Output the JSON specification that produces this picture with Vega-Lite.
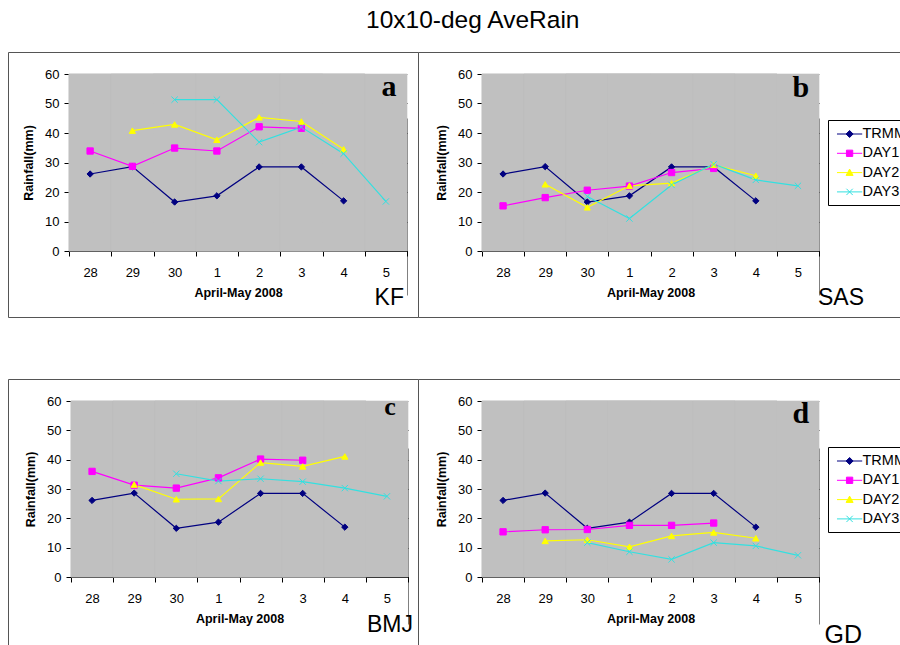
{
  "$schema": "https://vega.github.io/schema/vega-lite/v6.json",
  "padding": {"left": 7, "top": 8, "right": 0, "bottom": 0},
  "background": "white",
  "title": {
    "text": "10x10-deg AveRain",
    "font": "Liberation Sans",
    "fontSize": 24.5,
    "fontWeight": "normal",
    "color": "#000",
    "anchor": "middle",
    "dx": 12,
    "offset": 18
  },
  "datasets": {
    "rain": [
      {"p": "a", "s": "TRMM", "day": "28", "mm": 26.1},
      {"p": "a", "s": "TRMM", "day": "29", "mm": 28.6},
      {"p": "a", "s": "TRMM", "day": "30", "mm": 16.6},
      {"p": "a", "s": "TRMM", "day": "1", "mm": 18.7},
      {"p": "a", "s": "TRMM", "day": "2", "mm": 28.5},
      {"p": "a", "s": "TRMM", "day": "3", "mm": 28.5},
      {"p": "a", "s": "TRMM", "day": "4", "mm": 17.0},
      {"p": "a", "s": "DAY1", "day": "28", "mm": 33.9},
      {"p": "a", "s": "DAY1", "day": "29", "mm": 28.7},
      {"p": "a", "s": "DAY1", "day": "30", "mm": 34.9},
      {"p": "a", "s": "DAY1", "day": "1", "mm": 33.9},
      {"p": "a", "s": "DAY1", "day": "2", "mm": 42.1},
      {"p": "a", "s": "DAY1", "day": "3", "mm": 41.6},
      {"p": "a", "s": "DAY2", "day": "29", "mm": 40.8},
      {"p": "a", "s": "DAY2", "day": "30", "mm": 42.9},
      {"p": "a", "s": "DAY2", "day": "1", "mm": 37.7},
      {"p": "a", "s": "DAY2", "day": "2", "mm": 45.3},
      {"p": "a", "s": "DAY2", "day": "3", "mm": 43.9},
      {"p": "a", "s": "DAY2", "day": "4", "mm": 34.5},
      {"p": "a", "s": "DAY3", "day": "30", "mm": 51.3},
      {"p": "a", "s": "DAY3", "day": "1", "mm": 51.3},
      {"p": "a", "s": "DAY3", "day": "2", "mm": 36.9},
      {"p": "a", "s": "DAY3", "day": "3", "mm": 42.0},
      {"p": "a", "s": "DAY3", "day": "4", "mm": 33.0},
      {"p": "a", "s": "DAY3", "day": "5", "mm": 16.8},

      {"p": "b", "s": "TRMM", "day": "28", "mm": 26.1},
      {"p": "b", "s": "TRMM", "day": "29", "mm": 28.6},
      {"p": "b", "s": "TRMM", "day": "30", "mm": 16.6},
      {"p": "b", "s": "TRMM", "day": "1", "mm": 18.7},
      {"p": "b", "s": "TRMM", "day": "2", "mm": 28.5},
      {"p": "b", "s": "TRMM", "day": "3", "mm": 28.5},
      {"p": "b", "s": "TRMM", "day": "4", "mm": 17.0},
      {"p": "b", "s": "DAY1", "day": "28", "mm": 15.3},
      {"p": "b", "s": "DAY1", "day": "29", "mm": 18.1},
      {"p": "b", "s": "DAY1", "day": "30", "mm": 20.6},
      {"p": "b", "s": "DAY1", "day": "1", "mm": 22.0},
      {"p": "b", "s": "DAY1", "day": "2", "mm": 26.6},
      {"p": "b", "s": "DAY1", "day": "3", "mm": 28.0},
      {"p": "b", "s": "DAY2", "day": "29", "mm": 22.6},
      {"p": "b", "s": "DAY2", "day": "30", "mm": 14.8},
      {"p": "b", "s": "DAY2", "day": "1", "mm": 22.1},
      {"p": "b", "s": "DAY2", "day": "2", "mm": 23.0},
      {"p": "b", "s": "DAY2", "day": "3", "mm": 29.2},
      {"p": "b", "s": "DAY2", "day": "4", "mm": 25.5},
      {"p": "b", "s": "DAY3", "day": "30", "mm": 18.5},
      {"p": "b", "s": "DAY3", "day": "1", "mm": 11.0},
      {"p": "b", "s": "DAY3", "day": "2", "mm": 22.4},
      {"p": "b", "s": "DAY3", "day": "3", "mm": 29.4},
      {"p": "b", "s": "DAY3", "day": "4", "mm": 24.1},
      {"p": "b", "s": "DAY3", "day": "5", "mm": 22.1},

      {"p": "c", "s": "TRMM", "day": "28", "mm": 26.1},
      {"p": "c", "s": "TRMM", "day": "29", "mm": 28.6},
      {"p": "c", "s": "TRMM", "day": "30", "mm": 16.6},
      {"p": "c", "s": "TRMM", "day": "1", "mm": 18.7},
      {"p": "c", "s": "TRMM", "day": "2", "mm": 28.5},
      {"p": "c", "s": "TRMM", "day": "3", "mm": 28.5},
      {"p": "c", "s": "TRMM", "day": "4", "mm": 17.0},
      {"p": "c", "s": "DAY1", "day": "28", "mm": 36.0},
      {"p": "c", "s": "DAY1", "day": "29", "mm": 31.3},
      {"p": "c", "s": "DAY1", "day": "30", "mm": 30.3},
      {"p": "c", "s": "DAY1", "day": "1", "mm": 33.8},
      {"p": "c", "s": "DAY1", "day": "2", "mm": 40.2},
      {"p": "c", "s": "DAY1", "day": "3", "mm": 39.8},
      {"p": "c", "s": "DAY2", "day": "29", "mm": 31.5},
      {"p": "c", "s": "DAY2", "day": "30", "mm": 26.5},
      {"p": "c", "s": "DAY2", "day": "1", "mm": 26.6},
      {"p": "c", "s": "DAY2", "day": "2", "mm": 39.0},
      {"p": "c", "s": "DAY2", "day": "3", "mm": 37.7},
      {"p": "c", "s": "DAY2", "day": "4", "mm": 41.1},
      {"p": "c", "s": "DAY3", "day": "30", "mm": 35.2},
      {"p": "c", "s": "DAY3", "day": "1", "mm": 32.7},
      {"p": "c", "s": "DAY3", "day": "2", "mm": 33.5},
      {"p": "c", "s": "DAY3", "day": "3", "mm": 32.5},
      {"p": "c", "s": "DAY3", "day": "4", "mm": 30.3},
      {"p": "c", "s": "DAY3", "day": "5", "mm": 27.5},

      {"p": "d", "s": "TRMM", "day": "28", "mm": 26.1},
      {"p": "d", "s": "TRMM", "day": "29", "mm": 28.6},
      {"p": "d", "s": "TRMM", "day": "30", "mm": 16.6},
      {"p": "d", "s": "TRMM", "day": "1", "mm": 18.7},
      {"p": "d", "s": "TRMM", "day": "2", "mm": 28.5},
      {"p": "d", "s": "TRMM", "day": "3", "mm": 28.5},
      {"p": "d", "s": "TRMM", "day": "4", "mm": 17.0},
      {"p": "d", "s": "DAY1", "day": "28", "mm": 15.4},
      {"p": "d", "s": "DAY1", "day": "29", "mm": 16.1},
      {"p": "d", "s": "DAY1", "day": "30", "mm": 16.2},
      {"p": "d", "s": "DAY1", "day": "1", "mm": 17.6},
      {"p": "d", "s": "DAY1", "day": "2", "mm": 17.6},
      {"p": "d", "s": "DAY1", "day": "3", "mm": 18.4},
      {"p": "d", "s": "DAY2", "day": "29", "mm": 12.3},
      {"p": "d", "s": "DAY2", "day": "30", "mm": 12.7},
      {"p": "d", "s": "DAY2", "day": "1", "mm": 10.3},
      {"p": "d", "s": "DAY2", "day": "2", "mm": 14.0},
      {"p": "d", "s": "DAY2", "day": "3", "mm": 15.2},
      {"p": "d", "s": "DAY2", "day": "4", "mm": 13.2},
      {"p": "d", "s": "DAY3", "day": "30", "mm": 11.7},
      {"p": "d", "s": "DAY3", "day": "1", "mm": 8.6},
      {"p": "d", "s": "DAY3", "day": "2", "mm": 6.0},
      {"p": "d", "s": "DAY3", "day": "3", "mm": 11.7},
      {"p": "d", "s": "DAY3", "day": "4", "mm": 10.6},
      {"p": "d", "s": "DAY3", "day": "5", "mm": 7.4}
    ]
  },
  "spacing": 60,
  "resolve": {
    "scale": {"x": "independent", "y": "independent", "color": "independent", "fill": "independent", "stroke": "independent", "shape": "independent"},
    "legend": {"color": "independent", "fill": "independent", "stroke": "independent", "shape": "independent"}
  },
  "vconcat": [
    {
      "spacing": 0,
      "bounds": "flush",
      "resolve": {
        "scale": {"x": "independent", "y": "independent", "color": "independent", "fill": "independent", "stroke": "independent", "shape": "independent"},
        "legend": {"color": "independent", "fill": "independent", "stroke": "independent", "shape": "independent"}
      },
      "hconcat": [
        {
          "width": 410,
          "height": 265,
          "title": {"text": "KF", "orient": "bottom", "anchor": "end", "frame": "group", "offset": -12, "dx": -14, "baseline": "alphabetic", "font": "Liberation Sans", "fontSize": 23, "fontWeight": "normal", "color": "#000"},
          "encoding": {
            "x": {
              "field": "day", "type": "ordinal",
              "scale": {"type": "band", "domain": ["28", "29", "30", "1", "2", "3", "4", "5"], "range": [61, 399], "paddingInner": 0, "paddingOuter": 0},
              "axis": {"title": "April-May 2008", "offset": -66, "tickBand": "extent", "grid": true, "gridColor": "#808080", "gridOpacity": {"condition": {"test": "datum.value === '5'", "value": 1}, "value": 0}}
            },
            "y": {
              "field": "mm", "type": "quantitative",
              "scale": {"domain": [0, 60], "range": [199, 22], "nice": false},
              "axis": {"title": "Rainfall(mm)", "offset": -61, "values": [0, 10, 20, 30, 40, 50, 60], "grid": true, "gridColor": {"condition": {"test": "datum.value === 60", "value": "#808080"}, "value": "#000"}}
            }
          },
          "layer": [
            {
              "data": {"name": "rain"},
              "transform": [{"filter": "datum.p === 'a'"}],
              "mark": {"type": "rect", "fill": "#C0C0C0", "stroke": "#C0C0C0", "strokeWidth": 0.6},
              "encoding": {"y": {"datum": 0, "type": "quantitative"}, "y2": {"datum": 60}}
            },
            {
              "data": {"name": "rain"},
              "transform": [{"filter": "datum.p === 'a'"}],
              "mark": {"type": "line", "strokeWidth": 1.2},
              "encoding": {
                "color": {"field": "s", "type": "nominal", "scale": {"domain": ["TRMM", "DAY1", "DAY2", "DAY3"], "range": ["#000080", "#FF00FF", "#FFFF00", "#33E0E0"]}, "legend": null},
                "order": {"value": null}
              }
            },
            {
              "data": {"name": "rain"},
              "transform": [{"filter": "datum.p === 'a'"}],
              "mark": {"type": "point", "filled": true, "opacity": 1, "size": 40, "strokeWidth": 1},
              "encoding": {
                "shape": {"field": "s", "type": "nominal", "scale": {"domain": ["TRMM", "DAY1", "DAY2", "DAY3"], "range": ["diamond", "square", "triangle-up", "M-1,-1L1,1M-1,1L1,-1"]}, "legend": null},
                "fill": {"field": "s", "type": "nominal", "scale": {"domain": ["TRMM", "DAY1", "DAY2", "DAY3"], "range": ["#000080", "#FF00FF", "#FFFF00", "#33E0E0"]}, "legend": null},
                "stroke": {"field": "s", "type": "nominal", "scale": {"domain": ["TRMM", "DAY1", "DAY2", "DAY3"], "range": ["#000080", "#FF00FF", "#FFFF00", "#33E0E0"]}, "legend": null}
              }
            },
            {
              "data": {"name": "rain"},
              "transform": [{"filter": "datum.p === 'a' && datum.s === 'DAY3' && datum.day === '5'"}],
              "mark": {"type": "text", "font": "Liberation Serif", "fontWeight": "bold", "fontSize": 30, "baseline": "alphabetic", "align": "center", "dx": 3, "color": "#000"},
              "encoding": {"y": {"datum": 52.5, "type": "quantitative"}, "text": {"value": "a"}}
            }
          ]
        },
        {
          "width": 486,
          "height": 265,
          "title": {"text": "SAS", "orient": "bottom", "anchor": "end", "frame": "group", "offset": -12, "dx": -40, "baseline": "alphabetic", "font": "Liberation Sans", "fontSize": 23, "fontWeight": "normal", "color": "#000"},
          "resolve": {
            "scale": {"shape": "independent", "fill": "independent", "stroke": "independent"},
            "legend": {"shape": "independent", "fill": "independent", "stroke": "independent"}
          },
          "encoding": {
            "x": {
              "field": "day", "type": "ordinal",
              "scale": {"type": "band", "domain": ["28", "29", "30", "1", "2", "3", "4", "5"], "range": [64, 401], "paddingInner": 0, "paddingOuter": 0},
              "axis": {"title": "April-May 2008", "offset": -66, "tickBand": "extent", "grid": true, "gridColor": "#808080", "gridOpacity": {"condition": {"test": "datum.value === '5'", "value": 1}, "value": 0}}
            },
            "y": {
              "field": "mm", "type": "quantitative",
              "scale": {"domain": [0, 60], "range": [199, 22], "nice": false},
              "axis": {"title": "Rainfall(mm)", "offset": -64, "values": [0, 10, 20, 30, 40, 50, 60], "grid": true, "gridColor": {"condition": {"test": "datum.value === 60", "value": "#808080"}, "value": "#000"}}
            }
          },
          "layer": [
            {
              "data": {"name": "rain"},
              "transform": [{"filter": "datum.p === 'b'"}],
              "mark": {"type": "rect", "fill": "#C0C0C0", "stroke": "#C0C0C0", "strokeWidth": 0.6},
              "encoding": {"y": {"datum": 0, "type": "quantitative"}, "y2": {"datum": 60}}
            },
            {
              "data": {"name": "rain"},
              "transform": [{"filter": "datum.p === 'b'"}],
              "mark": {"type": "line", "strokeWidth": 1.2},
              "encoding": {
                "color": {"field": "s", "type": "nominal", "scale": {"domain": ["TRMM", "DAY1", "DAY2", "DAY3"], "range": ["#000080", "#FF00FF", "#FFFF00", "#33E0E0"]}, "legend": null},
                "order": {"value": null}
              }
            },
            {
              "data": {"name": "rain"},
              "transform": [{"filter": "datum.p === 'b'"}],
              "mark": {"type": "point", "filled": true, "opacity": 1, "size": 40, "strokeWidth": 1},
              "encoding": {
                "shape": {"field": "s", "type": "nominal", "scale": {"domain": ["TRMM", "DAY1", "DAY2", "DAY3"], "range": ["diamond", "square", "triangle-up", "M-1,-1L1,1M-1,1L1,-1"]}, "legend": null},
                "fill": {"field": "s", "type": "nominal", "scale": {"domain": ["TRMM", "DAY1", "DAY2", "DAY3"], "range": ["#000080", "#FF00FF", "#FFFF00", "#33E0E0"]}, "legend": null},
                "stroke": {"field": "s", "type": "nominal", "scale": {"domain": ["TRMM", "DAY1", "DAY2", "DAY3"], "range": ["#000080", "#FF00FF", "#FFFF00", "#33E0E0"]}, "legend": null}
              }
            },
            {
              "data": {"values": []},
              "mark": {"type": "point", "filled": true, "opacity": 1, "strokeWidth": 1},
              "encoding": {
                "shape": {"field": "s", "type": "nominal", "scale": {"domain": ["TRMM", "DAY1", "DAY2", "DAY3"], "range": ["M-1.8,0H1.8M0,-0.5L0.5,0L0,0.5L-0.5,0Z", "M-1.8,0H1.8M-0.45,-0.45H0.45V0.45H-0.45Z", "M-1.8,0H1.8M0,-0.5L0.5,0.4H-0.5Z", "M-1.8,0H1.8M-0.45,-0.45L0.45,0.45M-0.45,0.45L0.45,-0.45"]},
                  "legend": {"title": null, "orient": "none", "legendX": 410, "legendY": 68, "strokeColor": "#000", "fillColor": "#fff", "padding": 6.5, "symbolSize": 196, "symbolStrokeWidth": 1, "symbolOffset": 7.6, "labelOffset": 5.4, "labelFont": "Liberation Sans", "labelFontSize": 14.5, "labelColor": "#000", "rowPadding": 4.3}},
                "fill": {"field": "s", "type": "nominal", "scale": {"domain": ["TRMM", "DAY1", "DAY2", "DAY3"], "range": ["#000080", "#FF00FF", "#FFFF00", "#33E0E0"]},
                  "legend": {"title": null, "orient": "none", "legendX": 410, "legendY": 68, "strokeColor": "#000", "fillColor": "#fff", "padding": 6.5, "symbolSize": 196, "symbolStrokeWidth": 1, "symbolOffset": 7.6, "labelOffset": 5.4, "labelFont": "Liberation Sans", "labelFontSize": 14.5, "labelColor": "#000", "rowPadding": 4.3}},
                "stroke": {"field": "s", "type": "nominal", "scale": {"domain": ["TRMM", "DAY1", "DAY2", "DAY3"], "range": ["#000080", "#FF00FF", "#FFFF00", "#33E0E0"]},
                  "legend": {"title": null, "orient": "none", "legendX": 410, "legendY": 68, "strokeColor": "#000", "fillColor": "#fff", "padding": 6.5, "symbolSize": 196, "symbolStrokeWidth": 1, "symbolOffset": 7.6, "labelOffset": 5.4, "labelFont": "Liberation Sans", "labelFontSize": 14.5, "labelColor": "#000", "rowPadding": 4.3}}
              }
            },
            {
              "data": {"name": "rain"},
              "transform": [{"filter": "datum.p === 'b' && datum.s === 'DAY3' && datum.day === '5'"}],
              "mark": {"type": "text", "font": "Liberation Serif", "fontWeight": "bold", "fontSize": 30, "baseline": "alphabetic", "align": "center", "dx": 3, "color": "#000"},
              "encoding": {"y": {"datum": 52.3, "type": "quantitative"}, "text": {"value": "b"}}
            }
          ]
        }
      ]
    },
    {
      "spacing": 0,
      "bounds": "flush",
      "resolve": {
        "scale": {"x": "independent", "y": "independent", "color": "independent", "fill": "independent", "stroke": "independent", "shape": "independent"},
        "legend": {"color": "independent", "fill": "independent", "stroke": "independent", "shape": "independent"}
      },
      "hconcat": [
        {
          "width": 410,
          "height": 267,
          "title": {"text": "BMJ", "orient": "bottom", "anchor": "end", "frame": "group", "offset": -14, "dx": -5, "baseline": "alphabetic", "font": "Liberation Sans", "fontSize": 23, "fontWeight": "normal", "color": "#000"},
          "encoding": {
            "x": {
              "field": "day", "type": "ordinal",
              "scale": {"type": "band", "domain": ["28", "29", "30", "1", "2", "3", "4", "5"], "range": [63, 400], "paddingInner": 0, "paddingOuter": 0},
              "axis": {"title": "April-May 2008", "offset": -69, "tickBand": "extent", "grid": true, "gridColor": "#808080", "gridOpacity": {"condition": {"test": "datum.value === '5'", "value": 1}, "value": 0}}
            },
            "y": {
              "field": "mm", "type": "quantitative",
              "scale": {"domain": [0, 60], "range": [198, 22], "nice": false},
              "axis": {"title": "Rainfall(mm)", "offset": -63, "values": [0, 10, 20, 30, 40, 50, 60], "grid": true, "gridColor": {"condition": {"test": "datum.value === 60", "value": "#808080"}, "value": "#000"}}
            }
          },
          "layer": [
            {
              "data": {"name": "rain"},
              "transform": [{"filter": "datum.p === 'c'"}],
              "mark": {"type": "rect", "fill": "#C0C0C0", "stroke": "#C0C0C0", "strokeWidth": 0.6},
              "encoding": {"y": {"datum": 0, "type": "quantitative"}, "y2": {"datum": 60}}
            },
            {
              "data": {"name": "rain"},
              "transform": [{"filter": "datum.p === 'c'"}],
              "mark": {"type": "line", "strokeWidth": 1.2},
              "encoding": {
                "color": {"field": "s", "type": "nominal", "scale": {"domain": ["TRMM", "DAY1", "DAY2", "DAY3"], "range": ["#000080", "#FF00FF", "#FFFF00", "#33E0E0"]}, "legend": null},
                "order": {"value": null}
              }
            },
            {
              "data": {"name": "rain"},
              "transform": [{"filter": "datum.p === 'c'"}],
              "mark": {"type": "point", "filled": true, "opacity": 1, "size": 40, "strokeWidth": 1},
              "encoding": {
                "shape": {"field": "s", "type": "nominal", "scale": {"domain": ["TRMM", "DAY1", "DAY2", "DAY3"], "range": ["diamond", "square", "triangle-up", "M-1,-1L1,1M-1,1L1,-1"]}, "legend": null},
                "fill": {"field": "s", "type": "nominal", "scale": {"domain": ["TRMM", "DAY1", "DAY2", "DAY3"], "range": ["#000080", "#FF00FF", "#FFFF00", "#33E0E0"]}, "legend": null},
                "stroke": {"field": "s", "type": "nominal", "scale": {"domain": ["TRMM", "DAY1", "DAY2", "DAY3"], "range": ["#000080", "#FF00FF", "#FFFF00", "#33E0E0"]}, "legend": null}
              }
            },
            {
              "data": {"name": "rain"},
              "transform": [{"filter": "datum.p === 'c' && datum.s === 'DAY3' && datum.day === '5'"}],
              "mark": {"type": "text", "font": "Liberation Serif", "fontWeight": "bold", "fontSize": 26, "baseline": "alphabetic", "align": "center", "dx": 3, "color": "#000"},
              "encoding": {"y": {"datum": 55.3, "type": "quantitative"}, "text": {"value": "c"}}
            }
          ]
        },
        {
          "width": 486,
          "height": 267,
          "title": {"text": "GD", "orient": "bottom", "anchor": "end", "frame": "group", "offset": -3, "dx": -42, "baseline": "alphabetic", "font": "Liberation Sans", "fontSize": 25, "fontWeight": "normal", "color": "#000"},
          "resolve": {
            "scale": {"shape": "independent", "fill": "independent", "stroke": "independent"},
            "legend": {"shape": "independent", "fill": "independent", "stroke": "independent"}
          },
          "encoding": {
            "x": {
              "field": "day", "type": "ordinal",
              "scale": {"type": "band", "domain": ["28", "29", "30", "1", "2", "3", "4", "5"], "range": [64, 401], "paddingInner": 0, "paddingOuter": 0},
              "axis": {"title": "April-May 2008", "offset": -69, "tickBand": "extent", "grid": true, "gridColor": "#808080", "gridOpacity": {"condition": {"test": "datum.value === '5'", "value": 1}, "value": 0}}
            },
            "y": {
              "field": "mm", "type": "quantitative",
              "scale": {"domain": [0, 60], "range": [198, 22], "nice": false},
              "axis": {"title": "Rainfall(mm)", "offset": -64, "values": [0, 10, 20, 30, 40, 50, 60], "grid": true, "gridColor": {"condition": {"test": "datum.value === 60", "value": "#808080"}, "value": "#000"}}
            }
          },
          "layer": [
            {
              "data": {"name": "rain"},
              "transform": [{"filter": "datum.p === 'd'"}],
              "mark": {"type": "rect", "fill": "#C0C0C0", "stroke": "#C0C0C0", "strokeWidth": 0.6},
              "encoding": {"y": {"datum": 0, "type": "quantitative"}, "y2": {"datum": 60}}
            },
            {
              "data": {"name": "rain"},
              "transform": [{"filter": "datum.p === 'd'"}],
              "mark": {"type": "line", "strokeWidth": 1.2},
              "encoding": {
                "color": {"field": "s", "type": "nominal", "scale": {"domain": ["TRMM", "DAY1", "DAY2", "DAY3"], "range": ["#000080", "#FF00FF", "#FFFF00", "#33E0E0"]}, "legend": null},
                "order": {"value": null}
              }
            },
            {
              "data": {"name": "rain"},
              "transform": [{"filter": "datum.p === 'd'"}],
              "mark": {"type": "point", "filled": true, "opacity": 1, "size": 40, "strokeWidth": 1},
              "encoding": {
                "shape": {"field": "s", "type": "nominal", "scale": {"domain": ["TRMM", "DAY1", "DAY2", "DAY3"], "range": ["diamond", "square", "triangle-up", "M-1,-1L1,1M-1,1L1,-1"]}, "legend": null},
                "fill": {"field": "s", "type": "nominal", "scale": {"domain": ["TRMM", "DAY1", "DAY2", "DAY3"], "range": ["#000080", "#FF00FF", "#FFFF00", "#33E0E0"]}, "legend": null},
                "stroke": {"field": "s", "type": "nominal", "scale": {"domain": ["TRMM", "DAY1", "DAY2", "DAY3"], "range": ["#000080", "#FF00FF", "#FFFF00", "#33E0E0"]}, "legend": null}
              }
            },
            {
              "data": {"values": []},
              "mark": {"type": "point", "filled": true, "opacity": 1, "strokeWidth": 1},
              "encoding": {
                "shape": {"field": "s", "type": "nominal", "scale": {"domain": ["TRMM", "DAY1", "DAY2", "DAY3"], "range": ["M-1.8,0H1.8M0,-0.5L0.5,0L0,0.5L-0.5,0Z", "M-1.8,0H1.8M-0.45,-0.45H0.45V0.45H-0.45Z", "M-1.8,0H1.8M0,-0.5L0.5,0.4H-0.5Z", "M-1.8,0H1.8M-0.45,-0.45L0.45,0.45M-0.45,0.45L0.45,-0.45"]},
                  "legend": {"title": null, "orient": "none", "legendX": 410, "legendY": 68, "strokeColor": "#000", "fillColor": "#fff", "padding": 6.5, "symbolSize": 196, "symbolStrokeWidth": 1, "symbolOffset": 7.6, "labelOffset": 5.4, "labelFont": "Liberation Sans", "labelFontSize": 14.5, "labelColor": "#000", "rowPadding": 4.3}},
                "fill": {"field": "s", "type": "nominal", "scale": {"domain": ["TRMM", "DAY1", "DAY2", "DAY3"], "range": ["#000080", "#FF00FF", "#FFFF00", "#33E0E0"]},
                  "legend": {"title": null, "orient": "none", "legendX": 410, "legendY": 68, "strokeColor": "#000", "fillColor": "#fff", "padding": 6.5, "symbolSize": 196, "symbolStrokeWidth": 1, "symbolOffset": 7.6, "labelOffset": 5.4, "labelFont": "Liberation Sans", "labelFontSize": 14.5, "labelColor": "#000", "rowPadding": 4.3}},
                "stroke": {"field": "s", "type": "nominal", "scale": {"domain": ["TRMM", "DAY1", "DAY2", "DAY3"], "range": ["#000080", "#FF00FF", "#FFFF00", "#33E0E0"]},
                  "legend": {"title": null, "orient": "none", "legendX": 410, "legendY": 68, "strokeColor": "#000", "fillColor": "#fff", "padding": 6.5, "symbolSize": 196, "symbolStrokeWidth": 1, "symbolOffset": 7.6, "labelOffset": 5.4, "labelFont": "Liberation Sans", "labelFontSize": 14.5, "labelColor": "#000", "rowPadding": 4.3}}
              }
            },
            {
              "data": {"name": "rain"},
              "transform": [{"filter": "datum.p === 'd' && datum.s === 'DAY3' && datum.day === '5'"}],
              "mark": {"type": "text", "font": "Liberation Serif", "fontWeight": "bold", "fontSize": 30, "baseline": "alphabetic", "align": "center", "dx": 3, "color": "#000"},
              "encoding": {"y": {"datum": 52.5, "type": "quantitative"}, "text": {"value": "d"}}
            }
          ]
        }
      ]
    }
  ],
  "config": {
    "view": {"stroke": "#555", "strokeWidth": 1, "fill": "white"},
    "font": "Liberation Sans",
    "axis": {
      "labelFont": "Liberation Sans", "labelFontSize": 13, "labelColor": "#000",
      "titleFont": "Liberation Sans", "titleFontSize": 12.5, "titleFontWeight": "bold", "titleColor": "#000",
      "domainColor": "#000", "tickColor": "#000", "tickSize": 5, "zindex": 1
    },
    "axisX": {"labelAngle": 0, "labelPadding": 10, "titlePadding": 7},
    "axisY": {"labelPadding": 5, "titlePadding": 9, "gridWidth": 1}
  }
}
